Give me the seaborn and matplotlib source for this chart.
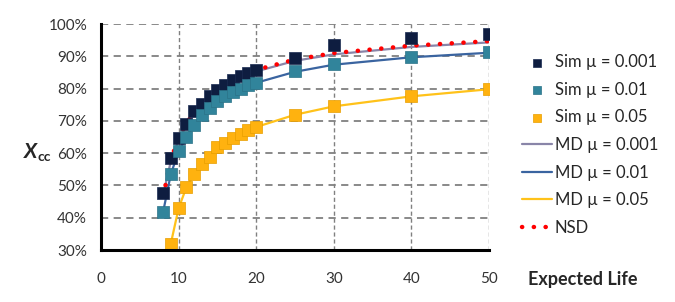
import numpy as np
import pandas as pd
import matplotlib
matplotlib.use("Agg")
import matplotlib.pyplot as plt
import seaborn as sns

# expected life values
life = [8, 9, 10, 11, 12, 13, 14, 15, 16, 17, 18, 19, 20, 25, 30, 40, 50]
life_05 = life[1:]

# simulation results (fraction)
sim_001 = [0.476, 0.585, 0.648, 0.690, 0.732, 0.752, 0.778, 0.796, 0.812, 0.827,
           0.840, 0.849, 0.858, 0.896, 0.936, 0.958, 0.969]
sim_01 = [0.417, 0.535, 0.607, 0.650, 0.687, 0.718, 0.741, 0.761, 0.777, 0.789,
          0.800, 0.810, 0.818, 0.854, 0.876, 0.897, 0.912]
sim_05 = [0.320, 0.429, 0.494, 0.536, 0.567, 0.589, 0.618, 0.630, 0.647, 0.660,
          0.671, 0.681, 0.719, 0.746, 0.778, 0.798]

# model (MD) and NSD curves
md_001 = [0.470, 0.575, 0.640, 0.685, 0.720, 0.750, 0.773, 0.792, 0.808, 0.822,
          0.834, 0.844, 0.853, 0.886, 0.906, 0.929, 0.943]
md_01 = [0.417, 0.535, 0.605, 0.650, 0.687, 0.716, 0.740, 0.760, 0.776, 0.789,
         0.800, 0.810, 0.818, 0.852, 0.874, 0.897, 0.911]
md_05 = [0.320, 0.429, 0.494, 0.536, 0.567, 0.590, 0.612, 0.630, 0.647, 0.660,
         0.671, 0.681, 0.719, 0.745, 0.776, 0.798]
nsd = [0.465, 0.580, 0.648, 0.692, 0.726, 0.755, 0.778, 0.797, 0.813, 0.827,
       0.839, 0.849, 0.858, 0.890, 0.910, 0.933, 0.947]

yticks = np.arange(0.3, 1.01, 0.1)
xticks = [0, 10, 20, 30, 40, 50]

c_navy = "#0e1d40"
c_teal = "#31849b"
c_orange = "#ffb20f"
c_md001 = "#8985a8"
c_md01 = "#3a64a0"
c_md05 = "#ffc21a"

sns.set_style("white")
plt.rcParams["font.family"] = ["Lato", "DejaVu Sans"]

fig = plt.figure(figsize=(6.75, 3.02), dpi=100)
ax = fig.add_axes([0.1496, 0.172, 0.5748, 0.7485])

h_md001 = sns.lineplot(x=life, y=md_001, ax=ax, color=c_md001, lw=1.6, label="MD µ = 0.001", zorder=3).lines[-1]
h_md01 = sns.lineplot(x=life, y=md_01, ax=ax, color=c_md01, lw=1.6, label="MD µ = 0.01", zorder=3).lines[-1]
h_md05 = sns.lineplot(x=life_05, y=md_05, ax=ax, color=c_md05, lw=1.6, label="MD µ = 0.05", zorder=3).lines[-1]
h_nsd, = ax.plot(life, nsd, color="#ff0000", lw=3.2, linestyle=(0, (0.05, 2.6)),
                 dash_capstyle="round", label="NSD", zorder=4)

h_s001 = ax.scatter(life, sim_001, marker="s", s=64, color=c_navy, edgecolor="#1a2a50", lw=0.5, label="Sim µ = 0.001", zorder=5)
h_s01 = ax.scatter(life, sim_01, marker="s", s=64, color=c_teal, edgecolor="#2b7288", lw=0.5, label="Sim µ = 0.01", zorder=5)
h_s05 = ax.scatter(life_05, sim_05, marker="s", s=64, color=c_orange, edgecolor="#e89e00", lw=0.5, label="Sim µ = 0.05", zorder=5)

ax.set_xlim(0, 50)
ax.set_ylim(0.3, 1.0)
ax.set_xticks(xticks)
ax.set_yticks(yticks)
ax.set_yticklabels([f"{int(round(v * 100))}%" for v in yticks])
ax.tick_params(axis="both", labelsize=11, colors="black", labelcolor="#333333",
               direction="out", length=4, width=2, pad=6)
ax.tick_params(axis="x", pad=12)

ax.grid(True, color="#808080", linestyle=(0, (4, 3)), lw=1.3)
ax.xaxis.grid(True, linestyle=(0, (3, 2)), lw=1.0)
for s in ["top", "right"]:
    ax.spines[s].set_visible(False)
for s in ["left", "bottom"]:
    ax.spines[s].set_color("black")
    ax.spines[s].set_linewidth(2.2)
    ax.spines[s].set_zorder(6)

ax.legend(handles=[h_s001, h_s01, h_s05, h_md001, h_md01, h_md05, h_nsd],
          loc="upper left", bbox_to_anchor=(1.067, 0.897), frameon=False,
          fontsize=12, labelspacing=0.7, handlelength=1.8, handletextpad=0.2,
          borderaxespad=0, markerscale=0.8)

fig.text(24 / 675, 1 - 152 / 302, "X", fontsize=15, fontweight="bold", style="italic",
         ha="left", va="center")
fig.text(38 / 675, 1 - 157 / 302, "cc", fontsize=10, fontweight="bold", ha="left", va="center")
fig.text(528 / 675, 1 - 279 / 302, "Expected Life", fontsize=13, fontweight="bold",
         ha="left", va="center")

fig.savefig("out.png", dpi=100)
